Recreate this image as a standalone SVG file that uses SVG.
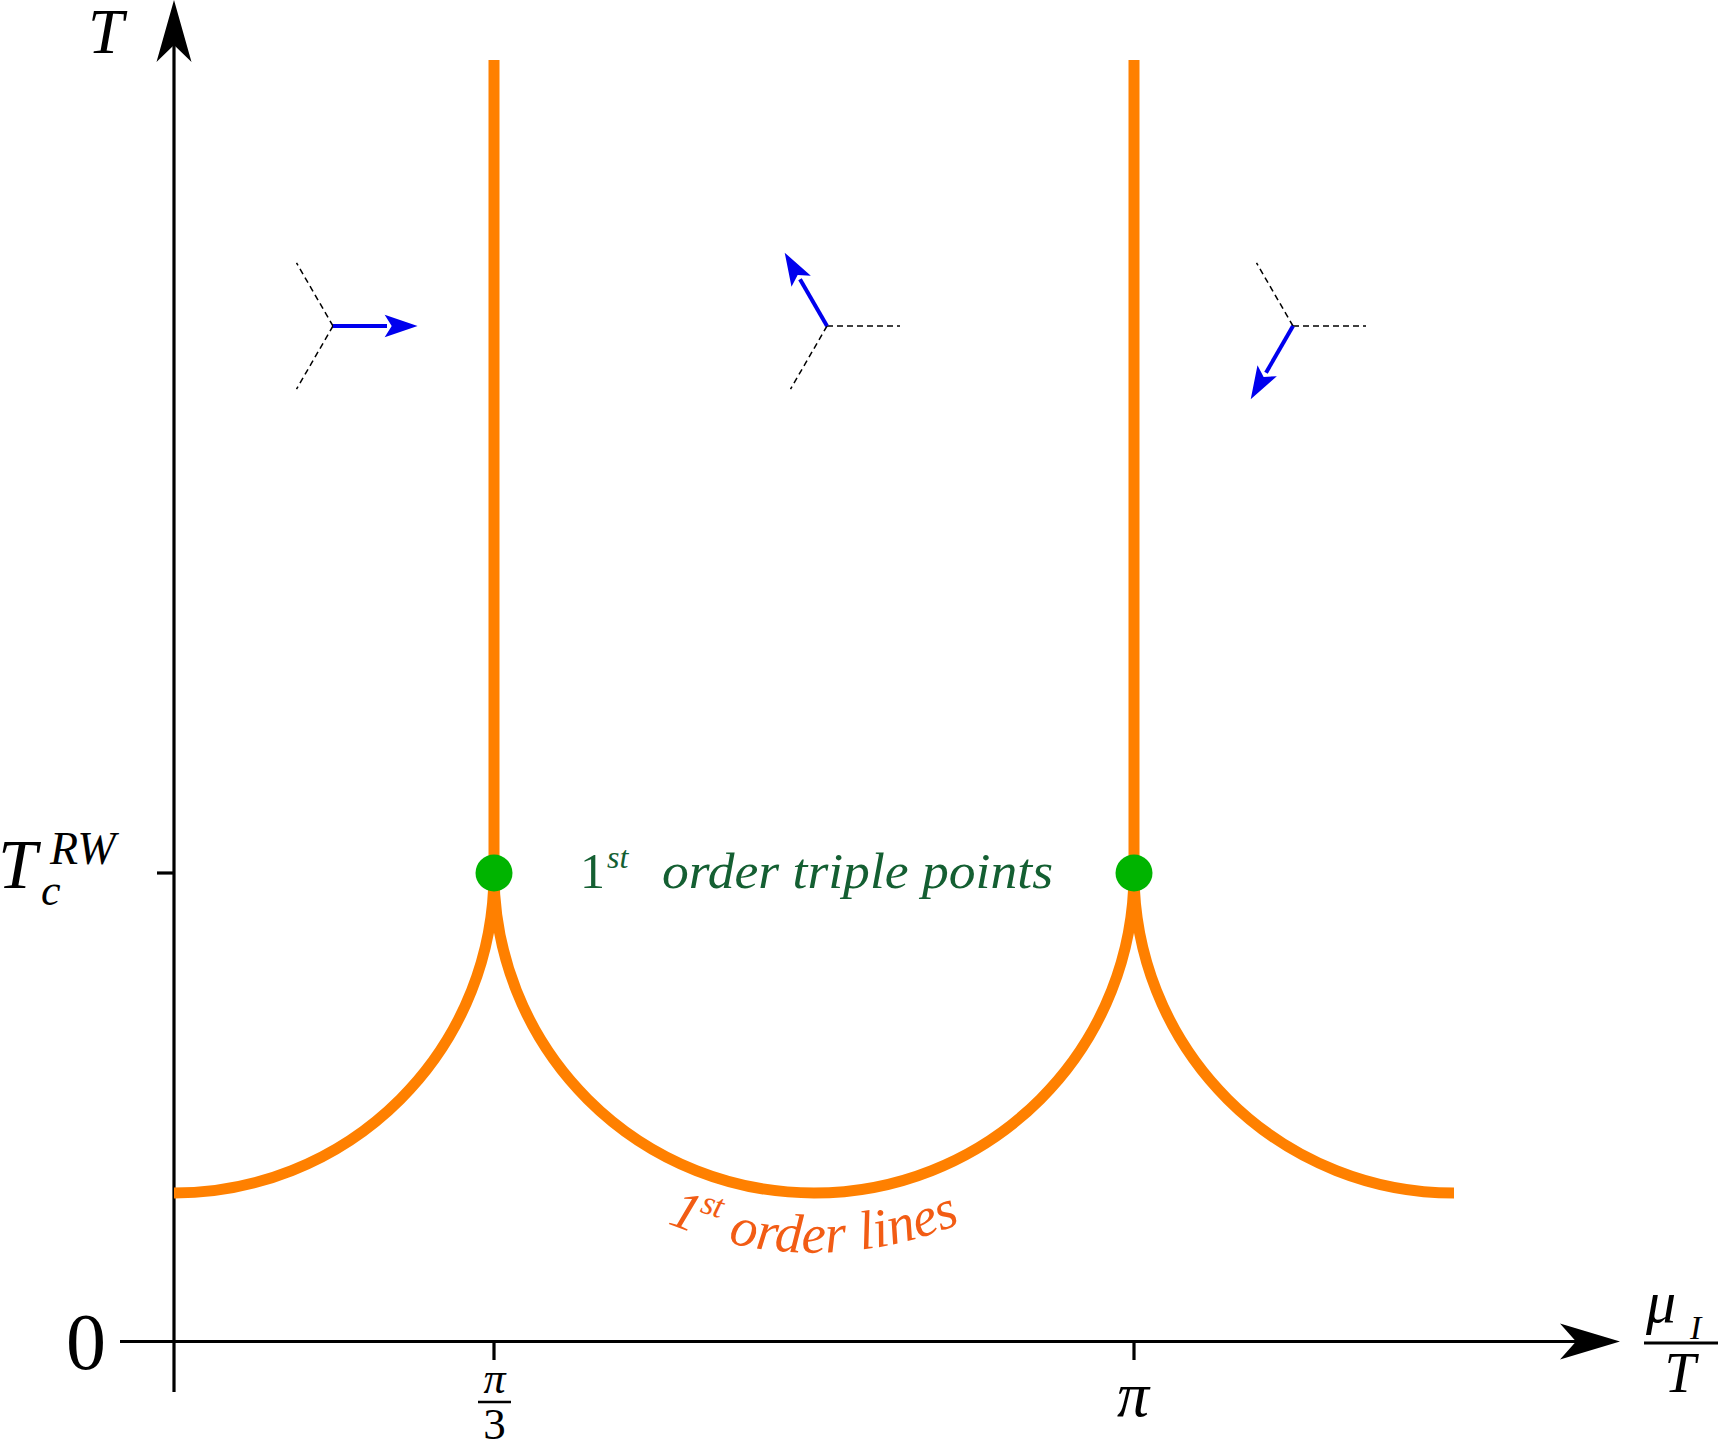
<svg xmlns="http://www.w3.org/2000/svg" width="1718" height="1443" viewBox="0 0 1718 1443">
<style>
.ax{stroke:#000;stroke-width:3.2;fill:none}
.or{stroke:#ff8000;stroke-width:11;fill:none}
.dash{stroke:#000;stroke-width:1.5;stroke-dasharray:6 4;fill:none}
.bl{stroke:#0000ee;stroke-width:4;fill:none}
.it{font-family:"Liberation Serif","Times New Roman",serif;font-style:italic}
.rm{font-family:"Liberation Serif","Times New Roman",serif}
</style>
<defs>
<marker id="barrow" markerUnits="userSpaceOnUse" markerWidth="40" markerHeight="30" viewBox="-4 -12 34 24" refX="0" refY="0" orient="auto">
<path d="M26,0 L-2,-9.5 L4,0 L-2,9.5 Z" fill="#0000ee"/>
</marker>
<path id="lblarc" d="M570,1164 A380,380 0 0 0 1058,1164"/>
</defs>
<rect width="1718" height="1443" fill="#fff"/>

<g id="axes">
<line class="ax" x1="174" y1="40" x2="174" y2="1392"/>
<path d="M174,0 L191.5,62 L174,45 L156.5,62 Z" fill="#000"/>
<line class="ax" x1="120" y1="1341.5" x2="1580" y2="1341.5"/>
<path d="M1620,1341.5 L1560,1323.5 L1576,1341.5 L1560,1359.5 Z" fill="#000"/>
<line class="ax" x1="157" y1="873" x2="174" y2="873"/>
<line class="ax" x1="494" y1="1341" x2="494" y2="1360"/>
<line class="ax" x1="1134" y1="1341" x2="1134" y2="1360"/>
</g>

<g id="axis-labels">
<text class="it" x="88" y="53" font-size="64">T</text>
<text class="it" x="-2" y="888" font-size="70">T</text>
<text class="it" x="41" y="905" font-size="44">c</text>
<text class="it" x="50" y="864" font-size="46">RW</text>
<text class="rm" x="86" y="1369" font-size="80" text-anchor="middle">0</text>
<text class="it" x="494.5" y="1393" font-size="44" text-anchor="middle">π</text>
<line x1="478" y1="1402" x2="511" y2="1402" stroke="#000" stroke-width="2.6"/>
<text class="rm" x="494.5" y="1439" font-size="45" text-anchor="middle">3</text>
<text class="it" x="1133" y="1416" font-size="64" text-anchor="middle">π</text>
<text class="it" x="1646" y="1322" font-size="60">μ</text>
<text class="it" x="1690" y="1339" font-size="34">I</text>
<line x1="1644" y1="1343" x2="1718" y2="1343" stroke="#000" stroke-width="3"/>
<text class="it" x="1680" y="1392" font-size="56" text-anchor="middle">T</text>
</g>

<g id="phase-lines">
<line class="or" x1="494" y1="60" x2="494" y2="873"/>
<line class="or" x1="1134" y1="60" x2="1134" y2="873"/>
<path class="or" d="M174,1193 A320,320 0 0 0 494,873 A320,320 0 0 0 1134,873 A320,320 0 0 0 1454,1193"/>
</g>

<g id="triple-points">
<circle cx="494" cy="873" r="18.5" fill="#00b400"/>
<circle cx="1134" cy="873" r="18.5" fill="#00b400"/>
</g>

<g id="label-triple" fill="#145f32">
<text class="rm" x="580" y="888" font-size="50">1</text>
<text class="it" x="607" y="868" font-size="32">st</text>
<text class="it" x="662" y="888" font-size="50" textLength="391" lengthAdjust="spacingAndGlyphs">order triple points</text>
</g>

<g id="label-lines" fill="#f25c14">
<text class="it" font-size="55"><textPath href="#lblarc" startOffset="50%" text-anchor="middle">1<tspan font-size="34" dy="-22">st</tspan><tspan dy="22"> order lines</tspan></textPath></text>
</g>

<g id="glyph-1">
<line class="dash" x1="333" y1="326" x2="296.5" y2="262.8"/>
<line class="dash" x1="333" y1="326" x2="296.5" y2="389.2"/>
<line class="bl" x1="333" y1="326" x2="387" y2="326" marker-end="url(#barrow)"/>
</g>
<g id="glyph-2">
<line class="dash" x1="827" y1="326" x2="900" y2="326"/>
<line class="dash" x1="827" y1="326" x2="790.5" y2="389.2"/>
<line class="bl" x1="827" y1="326" x2="800" y2="279.2" marker-end="url(#barrow)"/>
</g>
<g id="glyph-3">
<line class="dash" x1="1293" y1="326" x2="1366" y2="326"/>
<line class="dash" x1="1293" y1="326" x2="1256.5" y2="262.8"/>
<line class="bl" x1="1293" y1="326" x2="1266" y2="372.8" marker-end="url(#barrow)"/>
</g>
</svg>
